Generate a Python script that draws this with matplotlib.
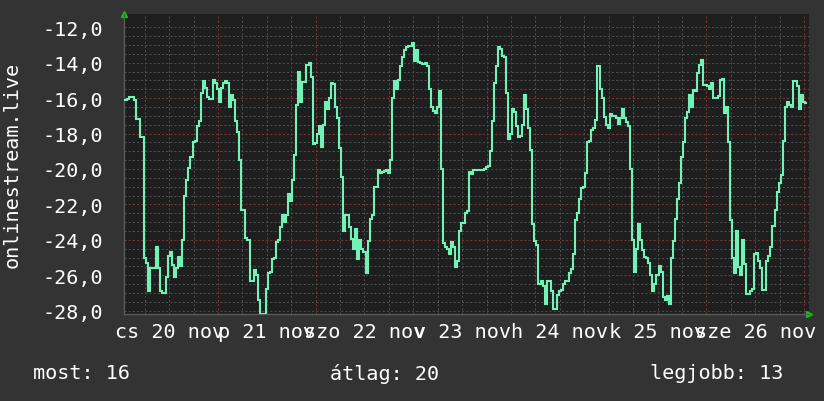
import matplotlib
matplotlib.use('Agg')
import matplotlib.pyplot as plt
import matplotlib.transforms as mtransforms
import numpy as np

plt.rcParams['font.family'] = ['DejaVu Sans Mono']

# félórás minták, óra 1.0-tól (nov 20 01:00)
start_hour = 0.75
step_hour = 0.5
temps = [
    # nov 20
    -16.1, -16.1, -16.05, -15.95, -15.95, -16.1, -17.2, -17.2, -18.2, -18.2,
    -25.0, -25.3, -26.9, -25.6, -25.6, -25.6, -24.4, -25.6, -26.9, -27.0,
    -27.0, -26.1, -24.9, -24.7, -25.4, -26.1, -25.6, -24.95, -25.5, -24.0,
    -21.5, -20.6, -19.95, -19.3, -18.5, -18.4, -17.6, -17.3, -15.7, -15.05,
    -15.4, -15.95, -16.05, -16.05, -14.95, -15.15, -15.5, -16.2, -15.4, -15.15,
    -15.05, -15.15, -16.5, -15.8, -16.1, -17.3, -17.9,
    # nov 21
    -19.5, -22.3, -22.3, -23.9, -24.0, -26.3, -26.3, -25.7, -26.0, -27.4,
    -28.2, -28.2, -28.2, -26.8, -25.9, -25.8, -25.1, -25.0, -24.1, -24.0,
    -23.3, -22.6, -23.0, -22.6, -21.4, -21.8, -20.6, -19.2, -16.4, -14.5,
    -16.2, -15.1, -15.1, -14.1, -14.0, -14.8, -18.6, -18.55, -18.0, -17.6,
    -18.75, -17.5, -16.2, -16.6, -16.0, -15.15, -15.2, -16.5, -17.1, -18.8,
    -20.45, -23.5, -22.6, -22.6, -23.3, -23.95, -24.5,
    # nov 22
    -23.4, -25.1, -24.0, -24.5, -24.7, -25.9, -24.05, -22.8, -22.6, -21.0,
    -21.0, -20.05, -20.2, -20.15, -20.1, -20.05, -20.2, -19.5, -16.0, -15.05,
    -15.5, -15.0, -14.2, -13.7, -13.3, -13.1, -13.05, -13.05, -12.9, -13.9,
    -13.3, -13.95, -14.0, -14.05, -14.0, -14.2, -15.5, -16.5, -16.75, -16.85,
    -16.5, -15.6, -20.0, -24.2, -24.4, -24.5, -24.8, -24.1, -24.4, -25.55,
    -25.2, -23.5, -23.05, -23.05, -22.5, -22.35,
    # nov 23
    -20.15, -20.3, -20.05, -20.05, -20.05, -20.05, -20.05, -20.0, -19.9, -19.85,
    -19.0, -17.3, -15.15, -14.2, -13.1, -13.2, -13.6, -13.7, -15.7, -18.3,
    -18.0, -16.6, -16.8, -17.6, -18.2, -18.15, -17.5, -15.8, -16.6, -17.7,
    -18.9, -23.1, -24.05, -24.3, -26.5, -26.3, -26.6, -27.6, -26.3, -26.3,
    -26.9, -27.9, -27.9, -27.1, -26.9, -26.85, -26.5, -26.3, -26.3, -25.9,
    -25.65, -24.8, -22.9, -22.5, -21.7, -21.1, -21.0,
    # nov 24
    -20.25, -18.5, -18.4, -17.8, -17.7, -17.25, -14.2, -15.5, -16.0, -17.05,
    -17.5, -17.7, -16.9, -17.0, -17.0, -17.1, -17.45, -17.1, -16.6, -17.1,
    -17.35, -17.6, -20.0, -24.0, -25.8, -24.5, -23.1, -24.0, -24.6, -24.95,
    -25.0, -25.3, -26.0, -26.9, -26.5, -26.0, -25.5, -25.8, -27.25, -27.4,
    -27.2, -27.6, -25.0, -24.05, -22.8, -21.7, -20.8, -19.3, -18.5, -17.1,
    -16.8, -15.8, -16.5, -15.55, -15.6, -14.6,
    # nov 25-26
    -14.1, -13.85, -15.25, -15.25, -15.3, -15.5, -15.15, -16.0, -16.0, -15.9,
    -15.0, -14.9, -16.85, -16.5, -18.5, -22.9, -25.0, -25.85, -23.5, -25.55,
    -26.0, -24.0, -25.35, -27.05, -27.05, -26.9, -26.8, -24.8, -24.75, -25.2,
    -25.6, -26.85, -26.85, -25.2, -24.9, -24.4, -23.2, -22.3, -21.3, -20.8,
    -20.35, -18.4, -16.5, -16.2, -16.4, -16.5, -15.05, -15.05, -15.3, -16.6,
    -15.8, -16.2, -16.25,
]

day_labels = ['cs 20 nov', 'p 21 nov', 'szo 22 nov', 'v 23 nov',
              'h 24 nov', 'k 25 nov', 'sze 26 nov']
summary = ['most: 16', 'átlag: 20', 'legjobb: 13']

bg = '#333333'
plot_bg = '#1e1e1e'
line_col = '#72f2b6'
minor_col = '#4e4e4e'
major_col = '#7d3434'
text_col = 'white'
fs = 14.5

fig = plt.figure(figsize=(8.24, 4.02), dpi=100, facecolor=bg)
ax = fig.add_axes([0.1499, 0.2164, 0.9818 - 0.1499, 0.9639 - 0.2164])
ax.set_facecolor(plot_bg)

edges = (start_hour + step_hour * np.arange(len(temps) + 1)) / 24.0
ax.stairs(temps, edges, baseline=None, color=line_col, linewidth=1.5, zorder=3)

ax.set_xlim(0.033, 7.051)
ax.set_ylim(-28.19, -11.22)

# rács
ax.set_xticks(np.arange(1, 8))
ax.set_xticks(np.arange(0.25, 7.05, 0.25), minor=True)
ax.set_yticks(np.arange(-28, -11, 2))
ax.set_yticks(np.arange(-28, -11.5, 0.5), minor=True)
ax.grid(which='minor', color=minor_col, linestyle=(0, (2, 2)), linewidth=0.75)
ax.grid(which='major', color=major_col, linestyle=(0, (2, 2)), linewidth=0.75)
ax.set_axisbelow(True)

ax.set_yticklabels([f'{v:.1f}'.replace('.', ',') for v in np.arange(-28, -11, 2)])
ax.tick_params(axis='y', which='major', colors=text_col, labelsize=fs, length=0, pad=15)
ax.tick_params(axis='x', which='both', length=0, labelbottom=False)
ax.tick_params(axis='y', which='minor', length=0)

for s in ['top', 'right']:
    ax.spines[s].set_visible(False)
for s in ['left', 'bottom']:
    ax.spines[s].set_color('#5a5a5a')
    ax.spines[s].set_linewidth(1)

# napok feliratai délben
trans = mtransforms.blended_transform_factory(ax.transData, ax.transAxes)
for i, lab in enumerate(day_labels):
    ax.text(i + 0.5, -0.057, lab, transform=trans, ha='center', va='center',
            color=text_col, fontsize=fs)

# nyilak a tengelyek végén
ax.plot([0], [1.0], marker='^', color='#00d000', markersize=5,
        transform=ax.transAxes, clip_on=False)
ax.plot([1.0], [0], marker='>', color='#00d000', markersize=5,
        transform=ax.transAxes, clip_on=False)

fig.text(12 / 824, 1 - 164.7 / 402, 'onlinestream.live', rotation=90,
         ha='center', va='center', color=text_col, fontsize=fs)

for xpos, txt in zip([33, 330, 650], summary):
    fig.text(xpos / 824, 1 - 374 / 402, txt, ha='left', va='center',
             color=text_col, fontsize=fs)

plt.savefig('out.png', dpi=100, facecolor=bg)
plt.close()
